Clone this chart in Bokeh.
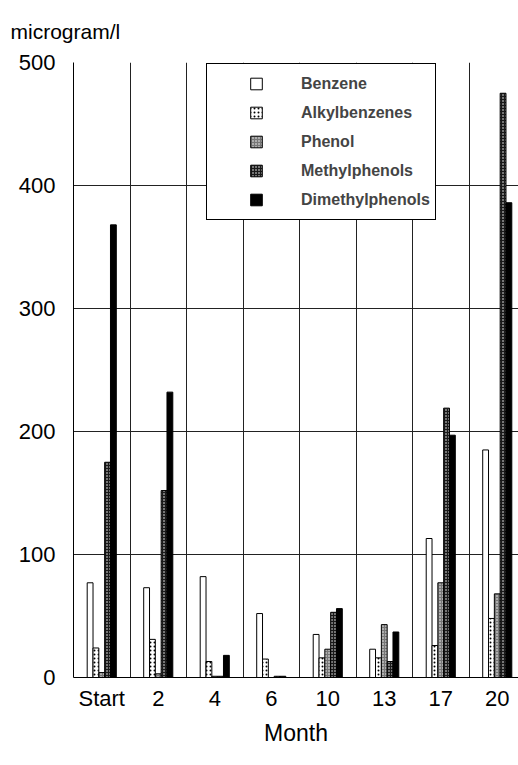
import numpy as np
from bokeh.plotting import figure
from bokeh.models import FixedTicker, Range1d, Legend, LegendItem
from bokeh.embed import file_html
from bokeh.resources import INLINE

months = ["Start", "2", "4", "6", "10", "13", "17", "20"]
benzene = [77, 73, 82, 52, 35, 23, 113, 185]
alkylbenzenes = [24, 31, 13, 15, 16, 16, 26, 48]
phenol = [4, 3, 1, 0, 23, 43, 77, 68]
methylphenols = [175, 152, 1, 1, 53, 13, 219, 475]
dimethylphenols = [368, 232, 18, 1, 56, 37, 197, 386]
series_names = ["Benzene", "Alkylbenzenes", "Phenol", "Methylphenols", "Dimethylphenols"]
series_values = [benzene, alkylbenzenes, phenol, methylphenols, dimethylphenols]
y_ticks = [0, 100, 200, 300, 400, 500]
unit_label = "microgram/l"

FONT = "Liberation Sans"

styles = [
    dict(fill_color="white"),
    dict(fill_color="white", hatch_pattern="dot", hatch_color="black", hatch_scale=4, hatch_weight=1),
    dict(fill_color="#777777", hatch_pattern="dot", hatch_color="white", hatch_scale=3, hatch_weight=1.5),
    dict(fill_color="#1a1a1a", hatch_pattern="dot", hatch_color="white", hatch_scale=3, hatch_weight=1),
    dict(fill_color="black"),
]

n_groups = len(months)
x_end = 7.876
p = figure(width=518, height=760, output_backend="svg", toolbar_location=None,
           x_range=Range1d(0, x_end), y_range=Range1d(0, 500),
           min_border_left=73, min_border_right=0, min_border_top=62, min_border_bottom=83)

bw = 0.103
centers = np.arange(n_groups) + 0.5
for i, (vals, st) in enumerate(zip(series_values, styles)):
    p.vbar(x=centers + (i - 2) * bw, top=vals, bottom=0, width=bw,
           line_color="black", line_width=1, **st)

# grids
p.xgrid.ticker = FixedTicker(ticks=list(range(1, n_groups)))
p.ygrid.ticker = FixedTicker(ticks=y_ticks[1:])
for g in (p.xgrid, p.ygrid):
    g.grid_line_color = "#222222"
    g.grid_line_width = 1
    g.grid_line_alpha = 1

# axes
p.xaxis.ticker = FixedTicker(ticks=list(centers))
p.xaxis.major_label_overrides = {float(c): m for c, m in zip(centers, months)}
p.yaxis.ticker = FixedTicker(ticks=y_ticks)
for ax in (p.xaxis, p.yaxis):
    ax.major_tick_line_color = None
    ax.minor_tick_line_color = None
    ax.major_tick_in = 0
    ax.major_tick_out = 0
    ax.axis_line_color = "black"
    ax.axis_line_width = 1
    ax.major_label_text_font = FONT
    ax.major_label_text_font_size = "22px"
    ax.major_label_text_color = "black"
p.yaxis.major_label_standoff = 18
p.xaxis.major_label_standoff = 8
p.xaxis.axis_label = "Month"
p.xaxis.axis_label_text_font = FONT
p.xaxis.axis_label_text_font_size = "23px"
p.xaxis.axis_label_text_font_style = "normal"
p.xaxis.axis_label_standoff = 6
p.xaxis.axis_label_text_color = "black"

p.outline_line_color = None

# unit label at the top-left, as the title
p.title.text = unit_label
p.title.text_font = FONT
p.title.text_font_size = "21px"
p.title.text_font_style = "normal"
p.title.text_color = "black"
p.title.align = "left"
p.title.vertical_align = "top"
p.title.text_line_height = 1.0
p.title.offset = -63
p.title.standoff = 36

# legend
items = []
for name, st in zip(series_names, styles):
    r = p.scatter(x=[np.nan], y=[np.nan], marker="square", line_color="black", line_width=1, **st)
    items.append(LegendItem(label=name, renderers=[r]))
legend = Legend(items=items, location=(133, 457), glyph_width=88, glyph_height=29,
                label_height=29, label_standoff=1, padding=5, spacing=0,
                label_text_font=FONT, label_text_font_size="16px", label_text_font_style="bold",
                border_line_color="black", border_line_width=1, border_line_alpha=1,
                background_fill_color="white", background_fill_alpha=1)
p.add_layout(legend)

open("out.html", "w").write(file_html(p, INLINE))
